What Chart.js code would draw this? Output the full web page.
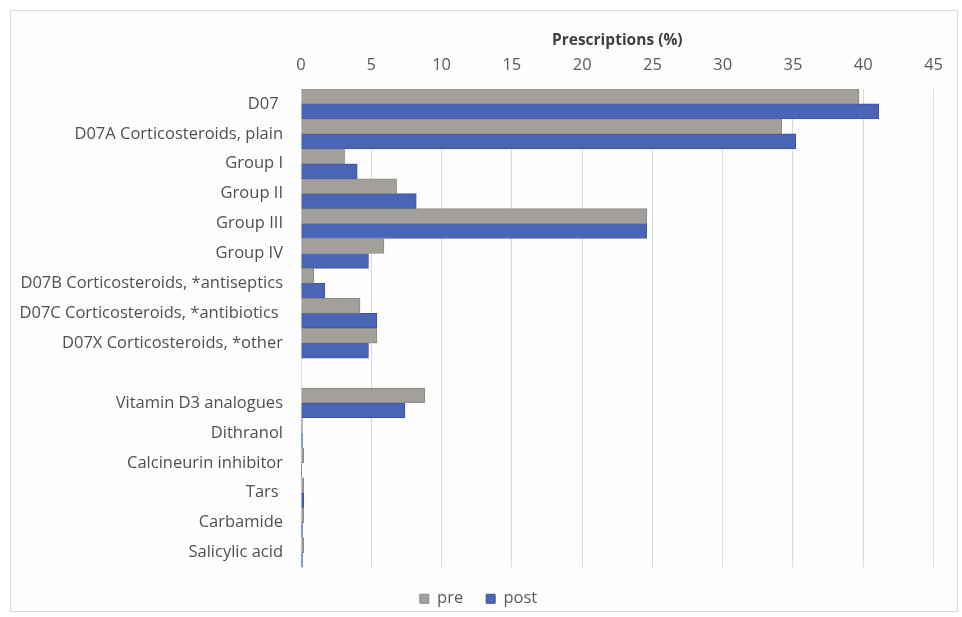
<!DOCTYPE html>
<html>
<head>
<meta charset="utf-8">
<script src="https://cdn.jsdelivr.net/npm/chart.js@4"></script>
<style>
    html, body { margin: 0; padding: 0; background: #ffffff; overflow: hidden; }
    #frame {
        position: absolute;
        left: 10px;
        top: 10px;
        width: 946px;
        height: 600px;
        border: 1px solid #d9d9d9;
        background: #fefefe;
    }
    #holder {
        position: absolute;
        left: 11px;
        top: 11px;
        width: 946px;
        height: 606px;
    }
</style>
</head>
<body>
<div id="frame"></div>
<div id="holder"><canvas id="rxChart"></canvas></div>
<script>
var categories = [
    'D07 ',
    'D07A Corticosteroids, plain',
    'Group I',
    'Group II',
    'Group III',
    'Group IV',
    'D07B Corticosteroids, *antiseptics',
    'D07C Corticosteroids, *antibiotics ',
    'D07X Corticosteroids, *other',
    '',
    'Vitamin D3 analogues',
    'Dithranol',
    'Calcineurin inhibitor',
    'Tars ',
    'Carbamide',
    'Salicylic acid'
];

var preValues = [39.7, 34.2, 3.1, 6.8, 24.6, 5.9, 0.9, 4.2, 5.4, null, 8.8, 0.1, 0.2, 0.2, 0.2, 0.2];
var postValues = [41.1, 35.2, 4.0, 8.2, 24.6, 4.8, 1.7, 5.4, 4.8, null, 7.4, 0.1, 0.05, 0.2, 0.1, 0.1];

var xTicks = [0, 5, 10, 15, 20, 25, 30, 35, 40, 45];

var labelFont = { family: 'Open Sans', size: 16.5 };

var rxChartConfig = {
    type: 'bar',
    data: {
        labels: categories,
        datasets: [{
            label: 'pre',
            data: preValues,
            backgroundColor: '#a39f9b',
            borderColor: '#8c8884',
            borderWidth: 1
        }, {
            label: 'post',
            data: postValues,
            backgroundColor: '#4b65b5',
            borderColor: '#3c53a0',
            borderWidth: 1
        }]
    },
    options: {
        indexAxis: 'y',
        responsive: true,
        maintainAspectRatio: false,
        animation: false,
        layout: {
            padding: { top: 20, right: 11, bottom: 0, left: 0 }
        },
        datasets: {
            bar: {
                categoryPercentage: 1.0,
                barPercentage: 1.0
            }
        },
        scales: {
            x: {
                position: 'top',
                min: 0,
                max: 45,
                afterBuildTicks: function(scale) {
                    scale.ticks = xTicks.map(function(v) { return { value: v }; });
                },
                afterFit: function(scale) {
                    scale.height = 58;
                },
                grid: {
                    color: '#d9d9d9',
                    drawTicks: false
                },
                border: { display: false },
                ticks: {
                    color: '#595959',
                    font: labelFont,
                    padding: 14
                },
                title: {
                    display: true,
                    text: 'Prescriptions (%)',
                    color: '#404040',
                    font: { family: 'Open Sans', size: 15.5, weight: 'bold' },
                    padding: { top: 0, bottom: 0 }
                }
            },
            y: {
                afterFit: function(scale) {
                    scale.width = 290;
                },
                grid: { display: false, drawTicks: false },
                border: { display: true, color: '#d9d9d9' },
                ticks: {
                    color: '#4f4f4f',
                    font: labelFont,
                    padding: 18,
                    autoSkip: false
                }
            }
        },
        plugins: {
            legend: {
                position: 'bottom',
                labels: {
                    color: '#595959',
                    font: labelFont,
                    boxWidth: 9,
                    boxHeight: 9,
                    padding: 23
                }
            },
            tooltip: { enabled: false }
        }
    }
};

window.onload = function() {
    var ctx = document.getElementById('rxChart').getContext('2d');
    window.rxChart = new Chart(ctx, rxChartConfig);
};
</script>
</body>
</html>
